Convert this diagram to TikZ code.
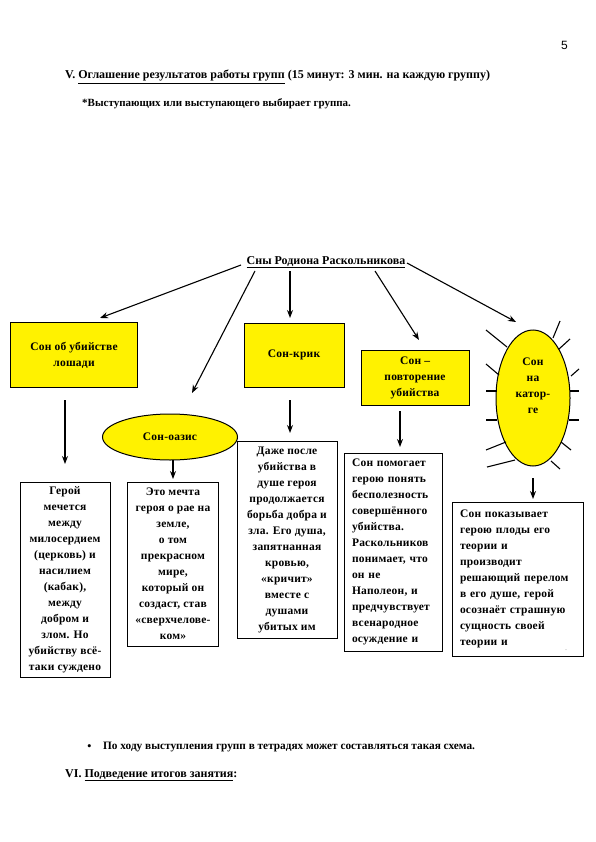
\documentclass[tikz,border=0pt]{standalone}
\usepackage{fontspec}
\setmainfont{Liberation Serif}
\newfontfamily\sansf{Liberation Sans}
\newfontfamily\wideserif[LetterSpace=2]{Liberation Serif}
\usetikzlibrary{arrows.meta,shapes.geometric}
\begin{document}
\begin{tikzpicture}[x=1pt,y=-1pt,
  txt/.style={font=\wideserif\bfseries\fontsize{11.5}{16}\selectfont},
  ybox/.style={draw=black, line width=1pt, fill=yellow, txt, align=center, inner sep=0pt},
  wbox/.style={draw=black, line width=1pt, fill=white, txt, inner ysep=0pt, inner xsep=8pt},
  arr/.style={-{Stealth[length=8pt,width=6pt]}, line width=1.1pt},
  ray/.style={line width=1.1pt},
  head/.style={font=\bfseries\fontsize{12}{14}\selectfont, anchor=base west, inner sep=0pt}]
\useasboundingbox (0,0) rectangle (595,842);
\fill[white] (0,0) rectangle (595,842);

% page header
\node[font=\sansf\fontsize{12}{14}\selectfont, anchor=base west, inner sep=0pt] (pn) at (561,50) {5};
\node[head] (h1) at (65,79) {V. \underline{Оглашение результатов работы групп} (15 минут: 3 мин. на каждую группу)};
\node[head, font=\bfseries\fontsize{11}{13}\selectfont] (h2) at (82,107) {*Выступающих или выступающего выбирает группа.};

% title
\node[head, anchor=base] (title) at (326,264) {\underline{Сны Родиона Раскольникова}};

% first row
\node[ybox, minimum width=127, minimum height=65] (b1) at (74,355) {Сон об убийстве\\лошади};
\node[ybox, minimum width=100, minimum height=64] (b3) at (294,355) {Сон-крик};
\node[ybox, minimum width=108, minimum height=55] (b4) at (415,377.5) {Сон –\\повторение\\убийства};
\node[ybox, ellipse, minimum width=135, minimum height=46] (b2) at (170,437) {Сон-оазис};
\node[ybox, ellipse, minimum width=74, minimum height=136] (b5) at (533,398) {};
\node[txt, align=center, inner sep=0pt] (b5t) at (533,386) {Сон\\на\\катор-\\ге};

% sun rays
\draw[ray] (553,338) -- (560,321);
\draw[ray] (486,330) -- (507,347);
\draw[ray] (559,349) -- (570,339);
\draw[ray] (486,364) -- (499,375);
\draw[ray] (571,376) -- (579,369);
\draw[ray] (486,391) -- (497,391);
\draw[ray] (570,391) -- (579,391);
\draw[ray] (486,420) -- (497,420);
\draw[ray] (569,420) -- (579,420);
\draw[ray] (486,450) -- (506,442);
\draw[ray] (561,442) -- (571,450);
\draw[ray] (487,467) -- (515,460);
\draw[ray] (551,461) -- (560,469);

% second row
\node[wbox, align=center, minimum width=90, minimum height=195] (c1) at (65,579.5)
  {Герой\\мечется\\между\\милосердием\\(церковь) и\\насилием\\(кабак),\\между\\добром и\\злом. Но\\убийству всё-\\таки суждено};
\node[wbox, align=center, minimum width=90, minimum height=164] (c2) at (173,564)
  {Это мечта\\героя о рае на\\земле,\\о том\\прекрасном\\мире,\\который он\\создаст, став\\«сверхчелове-\\ком»};
\node[wbox, align=center, minimum width=100, minimum height=197] (c3) at (287,539.5)
  {Даже после\\убийства в\\душе героя\\продолжается\\борьба добра и\\зла. Его душа,\\запятнанная\\кровью,\\«кричит»\\вместе с\\душами\\убитых им};
\node[wbox, align=left, text width=82, minimum height=198] (c4) at (393,552)
  {Сон помогает\\герою понять\\бесполезность\\совершённого\\убийства.\\Раскольников\\понимает, что\\он не\\Наполеон, и\\предчувствует\\всенародное\\осуждение и};
\node[wbox, align=left, text width=115, minimum height=154] (c5) at (517.5,579)
  {Сон показывает\\герою плоды его\\теории и\\производит\\решающий перелом\\в его душе, герой\\осознаёт страшную\\сущность своей\\теории и};
\node[font=\fontsize{5}{6}\selectfont, text=gray, inner sep=0pt] (dots) at (566,650) {..};

% arrows from title
\coordinate (s1) at (241,265); \coordinate (e1) at (100,318);
\coordinate (s2) at (255,271); \coordinate (e2) at (192,393);
\coordinate (s3) at (290,271); \coordinate (e3) at (290,318);
\coordinate (s4) at (375,271); \coordinate (e4) at (419,340);
\coordinate (s5) at (407,263); \coordinate (e5) at (516,322);
\draw[arr] (s1) -- (e1);
\draw[arr] (s2) -- (e2);
\draw[arr] (s3) -- (e3);
\draw[arr] (s4) -- (e4);
\draw[arr] (s5) -- (e5);

% arrows down
\coordinate (d1s) at (65,400);  \coordinate (d1e) at (65,464);
\coordinate (d2s) at (173,460); \coordinate (d2e) at (173,479);
\coordinate (d3s) at (290,400); \coordinate (d3e) at (290,433);
\coordinate (d4s) at (400,411); \coordinate (d4e) at (400,447);
\coordinate (d5s) at (533,478); \coordinate (d5e) at (533,499);
\draw[arr] (d1s) -- (d1e);
\draw[arr] (d2s) -- (d2e);
\draw[arr] (d3s) -- (d3e);
\draw[arr] (d4s) -- (d4e);
\draw[arr] (d5s) -- (d5e);

% footer
\node[font=\fontsize{13}{14}\selectfont, anchor=base west, inner sep=0pt] (bul) at (87,750) {•};
\node[head, font=\bfseries\fontsize{11.3}{13}\selectfont] (f1) at (103,749) {По ходу выступления групп в тетрадях может составляться такая схема.};
\node[head] (f2) at (65,777) {VI. \underline{Подведение итогов занятия}:};
\end{tikzpicture}
\end{document}
